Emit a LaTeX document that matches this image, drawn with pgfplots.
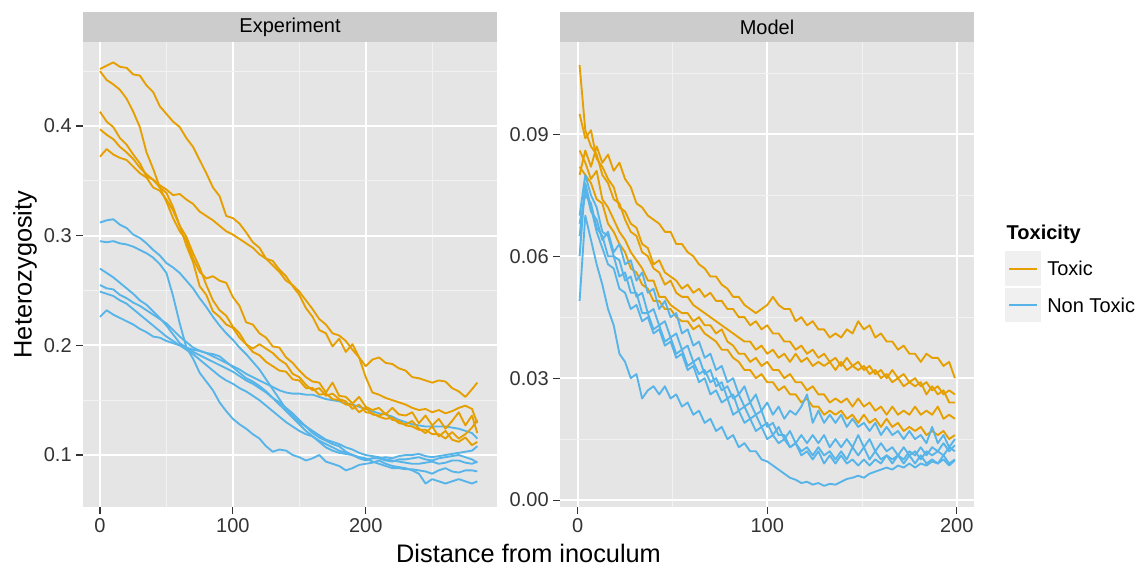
\documentclass[border=0pt]{standalone}
\usepackage{fontspec}
\setmainfont{Liberation Sans}
\usepackage{pgfplots}
\usepackage{pgfplotstable}
\pgfplotsset{compat=1.18}
\definecolor{toxc}{HTML}{E69F00}
\definecolor{nonc}{HTML}{56B4E9}
\definecolor{panelc}{HTML}{E5E5E5}
\definecolor{minorc}{HTML}{F2F2F2}
\definecolor{stripc}{HTML}{CCCCCC}
\definecolor{tickc}{HTML}{333333}
\definecolor{labc}{HTML}{333333}
\definecolor{keybg}{HTML}{F0F0F0}

\pgfplotstableread{
x a c b d e
0 0.452 0.397 0.450 0.413 0.372
5 0.455 0.392 0.442 0.404 0.379
10 0.458 0.388 0.438 0.399 0.374
15 0.454 0.381 0.433 0.389 0.371
20 0.453 0.376 0.425 0.383 0.369
25 0.447 0.370 0.413 0.374 0.363
30 0.446 0.362 0.399 0.366 0.357
35 0.437 0.356 0.376 0.354 0.353
40 0.431 0.351 0.361 0.351 0.344
45 0.418 0.346 0.344 0.344 0.341
50 0.411 0.342 0.331 0.339 0.333
55 0.404 0.337 0.316 0.326 0.323
60 0.399 0.338 0.304 0.309 0.309
65 0.389 0.333 0.296 0.299 0.291
70 0.381 0.329 0.279 0.284 0.276
75 0.369 0.322 0.267 0.271 0.254
80 0.357 0.318 0.261 0.255 0.246
85 0.344 0.314 0.263 0.241 0.231
90 0.336 0.309 0.259 0.232 0.226
95 0.318 0.304 0.257 0.227 0.219
100 0.316 0.301 0.244 0.217 0.216
105 0.311 0.297 0.236 0.211 0.207
110 0.303 0.293 0.221 0.201 0.201
115 0.294 0.289 0.219 0.197 0.194
120 0.289 0.283 0.211 0.201 0.191
125 0.279 0.279 0.207 0.197 0.185
130 0.277 0.273 0.199 0.193 0.181
135 0.269 0.267 0.198 0.187 0.177
140 0.263 0.259 0.189 0.183 0.176
145 0.254 0.255 0.184 0.174 0.169
150 0.246 0.249 0.177 0.171 0.168
155 0.234 0.241 0.171 0.164 0.161
160 0.226 0.233 0.167 0.159 0.161
165 0.214 0.224 0.166 0.161 0.155
170 0.211 0.219 0.157 0.154 0.156
175 0.199 0.211 0.166 0.156 0.151
180 0.206 0.209 0.154 0.151 0.150
185 0.194 0.204 0.153 0.149 0.146
190 0.201 0.196 0.147 0.142 0.146
195 0.189 0.189 0.153 0.146 0.139
200 0.181 0.171 0.144 0.139 0.143
205 0.187 0.157 0.141 0.138 0.137
210 0.189 0.155 0.143 0.135 0.136
215 0.184 0.152 0.137 0.133 0.138
220 0.183 0.150 0.143 0.134 0.132
225 0.179 0.148 0.137 0.129 0.131
230 0.177 0.146 0.136 0.128 0.127
235 0.171 0.143 0.139 0.131 0.126
240 0.170 0.141 0.129 0.124 0.123
245 0.168 0.142 0.136 0.120 0.123
250 0.166 0.139 0.127 0.126 0.119
255 0.168 0.141 0.133 0.117 0.119
260 0.167 0.138 0.124 0.122 0.115
265 0.161 0.140 0.131 0.114 0.121
270 0.158 0.143 0.139 0.112 0.115
275 0.153 0.145 0.127 0.116 0.119
280 0.160 0.142 0.136 0.109 0.125
284 0.166 0.129 0.120 0.112 0.132
}\expTox

\pgfplotstableread{
x a b c d e f
0 0.312 0.295 0.270 0.255 0.249 0.226
5 0.314 0.294 0.266 0.252 0.247 0.232
10 0.315 0.295 0.262 0.251 0.245 0.228
15 0.310 0.293 0.257 0.246 0.241 0.225
20 0.307 0.292 0.252 0.243 0.238 0.222
25 0.301 0.290 0.247 0.239 0.233 0.219
30 0.298 0.287 0.241 0.236 0.228 0.215
35 0.293 0.284 0.237 0.232 0.223 0.212
40 0.287 0.280 0.231 0.228 0.218 0.208
45 0.282 0.274 0.225 0.224 0.213 0.207
50 0.275 0.266 0.218 0.220 0.208 0.204
55 0.271 0.245 0.210 0.214 0.204 0.202
60 0.266 0.220 0.202 0.208 0.200 0.200
65 0.259 0.198 0.198 0.203 0.196 0.198
70 0.252 0.188 0.194 0.198 0.192 0.196
75 0.243 0.175 0.191 0.195 0.187 0.195
80 0.235 0.167 0.188 0.193 0.182 0.193
85 0.226 0.159 0.185 0.190 0.177 0.192
90 0.218 0.148 0.182 0.187 0.172 0.190
95 0.211 0.140 0.179 0.184 0.168 0.185
100 0.205 0.133 0.176 0.181 0.165 0.180
105 0.198 0.128 0.172 0.178 0.161 0.175
110 0.192 0.124 0.168 0.174 0.158 0.170
115 0.185 0.119 0.165 0.171 0.154 0.167
120 0.178 0.115 0.161 0.168 0.150 0.163
125 0.169 0.108 0.157 0.165 0.145 0.158
130 0.160 0.103 0.152 0.162 0.140 0.152
135 0.151 0.105 0.148 0.159 0.135 0.146
140 0.142 0.104 0.143 0.157 0.130 0.140
145 0.136 0.100 0.138 0.156 0.126 0.134
150 0.130 0.098 0.132 0.156 0.122 0.128
155 0.126 0.095 0.126 0.155 0.119 0.122
160 0.122 0.097 0.120 0.155 0.117 0.117
165 0.118 0.100 0.116 0.153 0.113 0.112
170 0.114 0.094 0.113 0.151 0.110 0.107
175 0.112 0.092 0.110 0.150 0.107 0.104
180 0.110 0.090 0.108 0.149 0.104 0.102
185 0.107 0.086 0.103 0.147 0.102 0.101
190 0.105 0.088 0.100 0.146 0.100 0.100
195 0.102 0.091 0.098 0.144 0.098 0.097
200 0.100 0.092 0.096 0.142 0.097 0.095
205 0.099 0.093 0.097 0.140 0.094 0.097
210 0.098 0.095 0.097 0.138 0.092 0.097
215 0.096 0.092 0.095 0.137 0.090 0.098
220 0.095 0.090 0.094 0.135 0.088 0.097
225 0.094 0.089 0.096 0.132 0.088 0.099
230 0.093 0.088 0.096 0.130 0.087 0.100
235 0.092 0.086 0.097 0.128 0.087 0.100
240 0.092 0.083 0.098 0.127 0.086 0.101
245 0.093 0.074 0.096 0.126 0.085 0.099
250 0.094 0.078 0.095 0.126 0.083 0.098
255 0.092 0.076 0.097 0.126 0.086 0.099
260 0.093 0.074 0.098 0.126 0.088 0.100
265 0.095 0.076 0.099 0.125 0.085 0.101
270 0.095 0.078 0.100 0.124 0.084 0.102
275 0.093 0.076 0.098 0.122 0.086 0.103
280 0.092 0.074 0.096 0.120 0.086 0.104
284 0.094 0.076 0.093 0.115 0.085 0.108
}\expNon

\pgfplotstableread{
x a b c d e
1 0.080 0.095 0.107 0.086 0.082
4 0.086 0.089 0.091 0.083 0.080
7 0.082 0.091 0.087 0.079 0.078
10 0.087 0.084 0.085 0.081 0.074
13 0.083 0.082 0.080 0.074 0.073
16 0.085 0.079 0.078 0.072 0.068
19 0.081 0.077 0.074 0.069 0.066
22 0.083 0.072 0.073 0.066 0.063
25 0.079 0.071 0.069 0.064 0.061
28 0.077 0.068 0.066 0.061 0.057
31 0.073 0.067 0.065 0.059 0.056
34 0.072 0.063 0.061 0.057 0.053
37 0.070 0.062 0.060 0.054 0.052
40 0.069 0.058 0.057 0.054 0.049
43 0.068 0.059 0.056 0.050 0.049
46 0.066 0.056 0.053 0.050 0.047
49 0.066 0.055 0.054 0.048 0.047
52 0.063 0.054 0.051 0.047 0.045
55 0.063 0.052 0.050 0.046 0.044
58 0.061 0.053 0.050 0.046 0.044
61 0.060 0.051 0.048 0.044 0.042
64 0.058 0.052 0.047 0.045 0.043
67 0.057 0.050 0.046 0.043 0.041
70 0.055 0.051 0.045 0.043 0.040
73 0.055 0.049 0.044 0.041 0.039
76 0.053 0.049 0.043 0.042 0.037
79 0.052 0.047 0.042 0.039 0.037
82 0.050 0.047 0.041 0.038 0.035
85 0.050 0.045 0.040 0.036 0.034
88 0.048 0.045 0.039 0.036 0.032
91 0.047 0.043 0.039 0.034 0.032
94 0.046 0.044 0.037 0.035 0.030
97 0.047 0.042 0.038 0.033 0.031
100 0.048 0.043 0.036 0.034 0.029
103 0.050 0.041 0.037 0.032 0.029
106 0.048 0.041 0.035 0.032 0.027
109 0.047 0.039 0.036 0.030 0.028
112 0.047 0.039 0.034 0.031 0.026
115 0.044 0.037 0.036 0.029 0.026
118 0.045 0.038 0.034 0.029 0.024
121 0.043 0.036 0.035 0.027 0.025
124 0.044 0.037 0.033 0.028 0.023
127 0.042 0.035 0.034 0.026 0.023
130 0.042 0.036 0.033 0.026 0.021
133 0.040 0.034 0.034 0.024 0.022
136 0.041 0.035 0.032 0.025 0.021
139 0.040 0.033 0.034 0.024 0.022
142 0.042 0.035 0.032 0.025 0.020
145 0.041 0.033 0.033 0.023 0.021
148 0.044 0.034 0.032 0.025 0.019
151 0.042 0.032 0.033 0.023 0.021
154 0.043 0.033 0.031 0.024 0.019
157 0.040 0.031 0.032 0.022 0.020
160 0.041 0.032 0.030 0.023 0.018
163 0.039 0.030 0.031 0.021 0.020
166 0.039 0.032 0.029 0.023 0.018
169 0.037 0.030 0.030 0.021 0.019
172 0.038 0.031 0.028 0.022 0.017
175 0.036 0.029 0.029 0.021 0.018
178 0.036 0.030 0.028 0.023 0.017
181 0.034 0.028 0.029 0.021 0.018
184 0.036 0.029 0.026 0.022 0.016
187 0.035 0.027 0.028 0.021 0.017
190 0.035 0.028 0.026 0.023 0.016
193 0.033 0.026 0.027 0.020 0.017
196 0.034 0.027 0.024 0.021 0.015
199 0.030 0.026 0.024 0.020 0.016
}\modTox

\pgfplotstableread{
x a b c d e
1 0.065 0.070 0.060 0.049 0.068
4 0.077 0.080 0.078 0.070 0.075
7 0.071 0.075 0.072 0.064 0.073
10 0.069 0.072 0.066 0.058 0.067
13 0.064 0.066 0.062 0.053 0.065
16 0.066 0.065 0.058 0.047 0.060
19 0.061 0.060 0.057 0.043 0.060
22 0.063 0.059 0.052 0.036 0.055
25 0.058 0.054 0.051 0.034 0.056
28 0.059 0.055 0.047 0.030 0.051
31 0.054 0.050 0.048 0.031 0.051
34 0.056 0.051 0.044 0.025 0.046
37 0.051 0.046 0.045 0.027 0.046
40 0.052 0.047 0.041 0.028 0.042
43 0.047 0.043 0.042 0.026 0.043
46 0.049 0.044 0.038 0.028 0.039
49 0.045 0.040 0.039 0.025 0.040
52 0.046 0.041 0.035 0.026 0.036
55 0.041 0.037 0.036 0.023 0.037
58 0.042 0.038 0.032 0.024 0.033
61 0.038 0.034 0.033 0.021 0.034
64 0.039 0.035 0.029 0.022 0.031
67 0.035 0.031 0.030 0.019 0.032
70 0.036 0.032 0.026 0.020 0.029
73 0.032 0.028 0.027 0.017 0.030
76 0.033 0.029 0.024 0.018 0.027
79 0.029 0.025 0.025 0.015 0.028
82 0.030 0.026 0.021 0.016 0.025
85 0.026 0.022 0.022 0.013 0.026
88 0.028 0.023 0.019 0.014 0.023
91 0.024 0.020 0.020 0.012 0.024
94 0.026 0.021 0.017 0.012 0.021
97 0.022 0.018 0.018 0.010 0.022
100 0.024 0.019 0.015 0.0095 0.018
103 0.021 0.016 0.016 0.0085 0.019
106 0.023 0.018 0.014 0.0075 0.016
109 0.020 0.015 0.015 0.0065 0.016
112 0.022 0.017 0.013 0.0055 0.013
115 0.021 0.014 0.014 0.0050 0.014
118 0.023 0.016 0.012 0.0042 0.011
121 0.026 0.014 0.013 0.0045 0.012
124 0.019 0.016 0.011 0.0038 0.010
127 0.022 0.014 0.013 0.0042 0.012
130 0.019 0.016 0.011 0.0035 0.009
133 0.021 0.013 0.012 0.0040 0.011
136 0.019 0.015 0.010 0.0038 0.009
139 0.021 0.013 0.012 0.0045 0.011
142 0.018 0.015 0.010 0.0052 0.009
145 0.020 0.013 0.013 0.0055 0.010
148 0.018 0.016 0.011 0.0060 0.0085
151 0.019 0.013 0.013 0.0055 0.010
154 0.017 0.015 0.010 0.0065 0.0085
157 0.019 0.012 0.012 0.0070 0.010
160 0.016 0.014 0.010 0.0075 0.009
163 0.018 0.012 0.011 0.0080 0.011
166 0.016 0.013 0.009 0.0075 0.010
169 0.017 0.011 0.011 0.0085 0.011
172 0.015 0.013 0.009 0.0080 0.010
175 0.017 0.011 0.011 0.0090 0.012
178 0.015 0.012 0.009 0.0080 0.011
181 0.016 0.010 0.011 0.0090 0.013
184 0.014 0.012 0.009 0.0085 0.011
187 0.018 0.011 0.010 0.0095 0.013
190 0.014 0.012 0.009 0.0090 0.012
193 0.016 0.011 0.011 0.0100 0.014
196 0.013 0.013 0.009 0.0085 0.012
199 0.015 0.012 0.010 0.0098 0.0135
}\modNon

\newcommand{\tfont}{\fontsize{15}{18}\selectfont}
\newcommand{\afont}{\fontsize{19}{23}\selectfont}

\pgfplotsset{
  gg/.style={
    scale only axis, width=310.5pt, height=348.75pt,
    axis background/.style={fill=panelc},
    grid=both,
    major grid style={white, line width=1.3pt},
    minor grid style={minorc, line width=0.6pt},
    axis line style={draw=none},
    tick align=outside, tick pos=left,
    major tick length=5pt, minor tick length=0pt,
    tick style={tickc, line width=0.8pt},
    ticklabel style={font=\tfont, text=labc},
    /pgf/number format/assume math mode=true,
  },
  tox/.style={color=toxc, line width=1.4pt, line join=round, no markers, forget plot},
  non/.style={color=nonc, line width=1.4pt, line join=round, no markers, forget plot},
}

\begin{document}
\begin{tikzpicture}
\useasboundingbox (0,0) rectangle (859.5pt,-424.5pt);

\begin{axis}[gg, name=L, at={(62.25pt,-31.5pt)}, anchor=north west,
  xmin=-12.8, xmax=298.8, ymin=0.0526, ymax=0.4766,
  xtick={0,100,200}, xticklabels={0,100,200},
  ytick={0.1,0.2,0.3,0.4}, yticklabels={0.1,0.2,0.3,0.4},
  minor xtick={50,150,250}, minor ytick={0.15,0.25,0.35,0.45},
]
\addplot[non] table[x=x,y=a]{\expNon};
\addplot[non] table[x=x,y=b]{\expNon};
\addplot[non] table[x=x,y=c]{\expNon};
\addplot[non] table[x=x,y=d]{\expNon};
\addplot[non] table[x=x,y=e]{\expNon};
\addplot[non] table[x=x,y=f]{\expNon};
\addplot[tox] table[x=x,y=a]{\expTox};
\addplot[tox] table[x=x,y=b]{\expTox};
\addplot[tox] table[x=x,y=c]{\expTox};
\addplot[tox] table[x=x,y=d]{\expTox};
\addplot[tox] table[x=x,y=e]{\expTox};
\end{axis}

\begin{axis}[gg, name=R, at={(420pt,-31.5pt)}, anchor=north west,
  xmin=-9.34, xmax=209.1, ymin=-0.0017, ymax=0.1127,
  xtick={0,100,200}, xticklabels={0,100,200},
  ytick={0,0.03,0.06,0.09}, yticklabels={0.00,0.03,0.06,0.09},
  minor xtick={50,150}, minor ytick={0.015,0.045,0.075,0.105},
]
\addplot[tox] table[x=x,y=a]{\modTox};
\addplot[tox] table[x=x,y=b]{\modTox};
\addplot[tox] table[x=x,y=c]{\modTox};
\addplot[tox] table[x=x,y=d]{\modTox};
\addplot[tox] table[x=x,y=e]{\modTox};
\addplot[non] table[x=x,y=a]{\modNon};
\addplot[non] table[x=x,y=b]{\modNon};
\addplot[non] table[x=x,y=c]{\modNon};
\addplot[non] table[x=x,y=d]{\modNon};
\addplot[non] table[x=x,y=e]{\modNon};
\end{axis}

% facet strips
\fill[stripc] (L.north west) rectangle ([yshift=22.5pt]L.north east);
\node[font=\tfont, text=black] at ([yshift=11.25pt]L.north) {Experiment};
\fill[stripc] (R.north west) rectangle ([yshift=22.5pt]R.north east);
\node[font=\tfont, text=black] at ([yshift=11.25pt]R.north) {Model};

% legend
\node[font=\tfont\bfseries, anchor=west] at (751.5pt,-175.5pt) {Toxicity};
\fill[keybg] (753.75pt,-188.25pt) rectangle (780.75pt,-214.5pt);
\fill[keybg] (753.75pt,-216pt) rectangle (780.75pt,-241.5pt);
\draw[toxc, line width=1.5pt] (756.75pt,-201.75pt) -- (777.75pt,-201.75pt);
\draw[nonc, line width=1.5pt] (756.75pt,-228.75pt) -- (777.75pt,-228.75pt);
\node[font=\tfont, text=black, anchor=west, inner sep=0pt] at (785.25pt,-201.4pt) {Toxic};
\node[font=\tfont, text=black, anchor=west, inner sep=0pt] at (785.25pt,-228.75pt) {Non Toxic};

% axis titles
\node[font=\afont, rotate=90] at (18.75pt,-205.9pt) {Heterozygosity};
\node[font=\afont] at (396.4pt,-415pt) {Distance from inoculum};
\end{tikzpicture}
\end{document}
